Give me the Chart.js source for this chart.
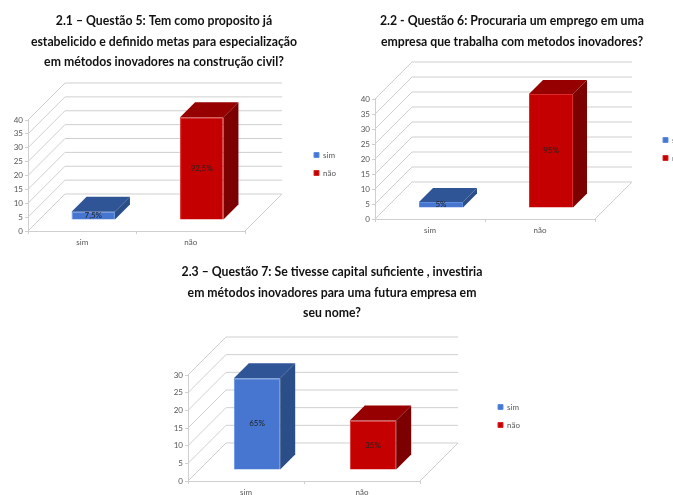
<!DOCTYPE html>
<html>
<head>
<meta charset="utf-8">
<script src="https://cdn.jsdelivr.net/npm/chart.js@4"></script>
<style>
    html, body { margin: 0; background: #fff; overflow: hidden; width: 673px; height: 495px; }
    canvas { position: absolute; }
</style>
</head>
<body>
<canvas id="q5"></canvas>
<canvas id="q6"></canvas>
<canvas id="q7"></canvas>
<script>
const categories = ["sim", "não"];

const q5Title = ["2.1 – Questão 5: Tem como proposito já", "estabelicido e definido metas para especialização", "em métodos inovadores na construção civil?"];
const q5Sim = [3, null];
const q5Nao = [null, 37];
const q5Labels = ["7,5%", "92,5%"];

const q6Title = ["2.2 - Questão 6: Procuraria um emprego em uma", "empresa que trabalha com metodos inovadores?"];
const q6Sim = [2, null];
const q6Nao = [null, 38];
const q6Labels = ["5%", "95%"];

const q7Title = ["2.3 – Questão 7: Se tivesse capital suficiente , investiria", "em métodos inovadores para uma futura empresa em", "seu nome?"];
const q7Sim = [26, null];
const q7Nao = [null, 14];
const q7Labels = ["65%", "35%"];

const TITLE_FONT = "Lato, 'Liberation Sans', sans-serif";
const SMALL_FONT = "Lato, 'Liberation Sans', sans-serif";
const TITLE_SIZE = 12.25;
const TITLE_LINE = 20.5;
const TITLE_TOP = 11;
const GRID_COLOR = "#cfcfcf";

const blueFaces = { front: "#4676cf", top: "#2f5597", side: "#2b4d88", edge: "#5f8fe0" };
const redFaces = { front: "#c40000", top: "#960000", side: "#7c0000", edge: "#d92a2a" };

function face(ctx, points, fill) {
    ctx.beginPath();
    points.forEach(([x, y], i) => i ? ctx.lineTo(x, y) : ctx.moveTo(x, y));
    ctx.closePath();
    ctx.fillStyle = fill;
    ctx.fill();
}

// box walls, floor and the raised bars with their side and top faces
const box3d = {
    id: "box3d",
    afterLayout(chart, args, opts) {
        const legend = chart.legend;
        legend.left = opts.legendX;
        legend.right = chart.width + 40;
        legend.top = opts.legendY;
        legend.bottom = opts.legendY + 60;
        chart.titleBlock.left = 0;
        chart.titleBlock.right = opts.titleWidth;
    },
    beforeDatasetsDraw(chart, args, opts) {
        const { ctx, chartArea: area, scales: { y } } = chart;
        const d = opts.wallDepth;
        ctx.save();
        ctx.strokeStyle = GRID_COLOR;
        ctx.lineWidth = 1;
        y.ticks.forEach(tick => {
            const py = y.getPixelForValue(tick.value);
            ctx.beginPath();
            ctx.moveTo(area.left, py);
            ctx.lineTo(area.left + d, py - d);
            ctx.lineTo(area.right + d, py - d);
            ctx.stroke();
        });
        ctx.beginPath();
        ctx.moveTo(area.right, area.bottom);
        ctx.lineTo(area.right + d, area.bottom - d);
        ctx.stroke();
        ctx.restore();
    },
    beforeDatasetDraw(chart, args, opts) {
        chart.ctx.save();
        chart.ctx.translate(opts.barShift, -opts.barShift);
    },
    afterDatasetDraw(chart, args, opts) {
        const { ctx } = chart;
        const faces = args.index === 0 ? blueFaces : redFaces;
        const b = opts.barDepth;
        args.meta.data.forEach((bar, i) => {
            if (chart.data.datasets[args.index].data[i] === null) return;
            const left = bar.x - bar.width / 2;
            const right = bar.x + bar.width / 2;
            face(ctx, [[left, bar.y], [left + b, bar.y - b], [right + b, bar.y - b], [right, bar.y]], faces.top);
            face(ctx, [[right, bar.y], [right + b, bar.y - b], [right + b, bar.base - b], [right, bar.base]], faces.side);
            ctx.fillStyle = "#222";
            ctx.font = "8px " + SMALL_FONT;
            ctx.textAlign = "center";
            ctx.textBaseline = "middle";
            ctx.fillText(opts.labels[i], bar.x, (bar.y + bar.base) / 2);
        });
        ctx.restore();
    }
};

function barSet(label, data, faces) {
    return {
        label: label,
        data: data,
        backgroundColor: faces.front,
        borderColor: faces.edge,
        borderWidth: 1,
        clip: false
    };
}

function plotQuestion(id, geo, title, sim, nao, labels, yMax) {
    const canvas = document.getElementById(id);
    canvas.width = geo.width;
    canvas.height = geo.height;
    canvas.style.left = geo.left + "px";
    canvas.style.top = geo.top + "px";

    return new Chart(canvas, {
        type: "bar",
        plugins: [box3d],
        data: {
            labels: categories,
            datasets: [barSet("sim", sim, blueFaces), barSet("não", nao, redFaces)]
        },
        options: {
            responsive: false,
            animation: false,
            layout: {
                padding: { left: 0, right: geo.width - geo.plotRight, top: 0, bottom: 0 }
            },
            datasets: {
                bar: { categoryPercentage: 1, barPercentage: 0.4 }
            },
            plugins: {
                tooltip: { enabled: false },
                title: {
                    display: true,
                    text: title,
                    color: "#111",
                    font: { family: TITLE_FONT, size: TITLE_SIZE, weight: "bold", lineHeight: TITLE_LINE / TITLE_SIZE },
                    padding: { top: TITLE_TOP, bottom: geo.plotTop - TITLE_TOP - title.length * TITLE_LINE }
                },
                legend: {
                    position: "chartArea",
                    align: "start",
                    labels: {
                        boxWidth: 5,
                        boxHeight: 5,
                        padding: 10,
                        color: "#555",
                        font: { family: SMALL_FONT, size: 8 }
                    }
                },
                box3d: {
                    wallDepth: geo.wallDepth,
                    barShift: geo.barShift,
                    barDepth: geo.barDepth,
                    labels: labels,
                    legendX: geo.legendX,
                    legendY: geo.legendY,
                    titleWidth: geo.titleWidth
                }
            },
            scales: {
                x: {
                    stacked: true,
                    grid: { drawOnChartArea: false, color: GRID_COLOR, tickLength: 3 },
                    border: { color: GRID_COLOR },
                    ticks: { color: "#555", padding: 4, font: { family: SMALL_FONT, size: 8 } },
                    afterFit: scale => { scale.height = 22; }
                },
                y: {
                    stacked: true,
                    min: 0,
                    max: yMax,
                    grid: { drawOnChartArea: false, color: GRID_COLOR, tickLength: 3 },
                    border: { color: GRID_COLOR },
                    ticks: { stepSize: 5, color: "#555", padding: 2, font: { family: SMALL_FONT, size: 8 } },
                    afterFit: scale => { scale.width = geo.plotLeft; }
                }
            }
        }
    });
}

plotQuestion("q5", {
    left: 0, top: 0, width: 340, height: 253, plotLeft: 28, plotRight: 245, plotTop: 120,
    wallDepth: 37, barShift: 11, barDepth: 15, legendX: 304, legendY: 141, titleWidth: 328
}, q5Title, q5Sim, q5Nao, q5Labels, 40);

plotQuestion("q6", {
    left: 351, top: 0, width: 322, height: 241, plotLeft: 24, plotRight: 244, plotTop: 99,
    wallDepth: 37, barShift: 11, barDepth: 14, legendX: 302, legendY: 126, titleWidth: 322
}, q6Title, q6Sim, q6Nao, q6Labels, 40);

plotQuestion("q7", {
    left: 0, top: 251, width: 664, height: 252, plotLeft: 188, plotRight: 420, plotTop: 124,
    wallDepth: 38, barShift: 11, barDepth: 15, legendX: 488, legendY: 142, titleWidth: 664
}, q7Title, q7Sim, q7Nao, q7Labels, 30);
</script>
</body>
</html>
